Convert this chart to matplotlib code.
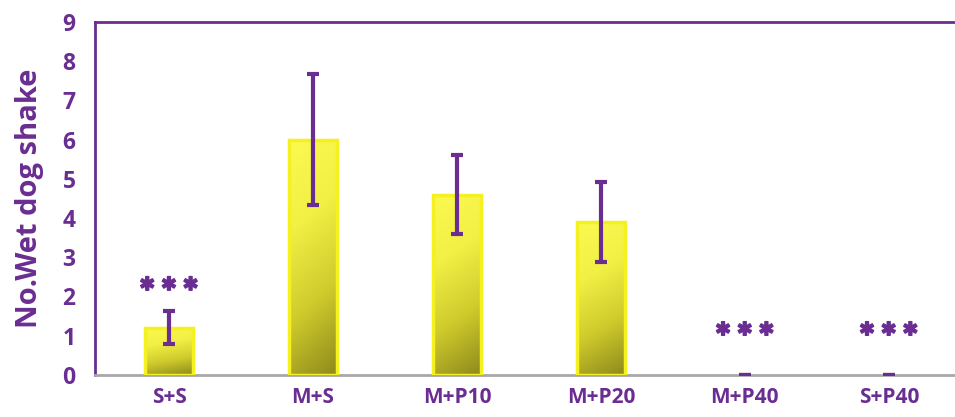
import numpy as np
import matplotlib.pyplot as plt
import matplotlib.patheffects as pe
from matplotlib.colors import LinearSegmentedColormap

groups = ["S+S", "M+S", "M+P10", "M+P20", "M+P40", "S+P40"]
means = [1.2, 6.0, 4.6, 3.9, 0.0, 0.0]
errors = [0.42, 1.67, 1.0, 1.03, 0.0, 0.0]
stars = ["***", None, None, None, "***", "***"]
star_y = [2.3, None, None, None, 1.15, 1.15]

purple = "#6a2d91"
plt.rcParams['font.family'] = ['Open Sans', 'DejaVu Sans']

fig = plt.figure(figsize=(9.55, 4.17), dpi=100)
ax = fig.add_axes([0.0995, 0.101, 0.9005, 0.846])

x = np.arange(len(groups))
width = 0.33
edges = ["#f5f020" if m > 0 else "none" for m in means]
bars = ax.bar(x, means, width=width, color="none", edgecolor=edges, linewidth=2.5, zorder=3)

# olive-to-yellow gradient clipped to each bar
cmap = LinearSegmentedColormap.from_list("bar", ["#8f8a1c", "#cfcb2c", "#f2ef45", "#fbfa50"])
yy, xx = np.mgrid[0:1:200j, 0:1:40j]
grad = yy * 0.85 + (1 - xx) * 0.15
for b in bars:
    if b.get_height() <= 0:
        continue
    x0, w, h = b.get_x(), b.get_width(), b.get_height()
    im = ax.imshow(grad, cmap=cmap, extent=[x0, x0 + w, 0, h], origin="lower",
                   aspect="auto", zorder=2, vmin=0, vmax=1)
    im.set_clip_path(b)

ax.errorbar(x, means, yerr=errors, fmt="none", ecolor=purple, elinewidth=3,
            capsize=4.5, capthick=3, zorder=4)

for xi, s, sy in zip(x, stars, star_y):
    if s:
        ax.text(xi, sy, " ".join("\u2731" * len(s)), ha="center", va="center",
                color=purple, fontsize=13.5, family="DejaVu Sans",
                path_effects=[pe.withStroke(linewidth=1.0, foreground=purple)])

ax.set_xlim(-0.514, 5.46)
ax.set_ylim(0, 9)
ax.set_yticks(range(0, 10))
ax.set_xticks(x)
ax.set_xticklabels(groups)
ax.tick_params(axis="both", length=0, colors=purple)
ax.tick_params(axis="y", pad=14, labelsize=16.5)
ax.tick_params(axis="x", pad=9, labelsize=15)
for lab in ax.get_xticklabels() + ax.get_yticklabels():
    lab.set_fontweight("bold")

ax.set_ylabel("No.Wet dog shake", color=purple, fontsize=21, fontweight="bold", labelpad=13)

ax.spines["right"].set_visible(False)
ax.spines["left"].set_color(purple)
ax.spines["left"].set_linewidth(2)
ax.spines["top"].set_color(purple)
ax.spines["top"].set_linewidth(2)
ax.spines["bottom"].set_color("#a8a8a8")
ax.spines["bottom"].set_linewidth(2)

fig.savefig("out.png", dpi=100)
